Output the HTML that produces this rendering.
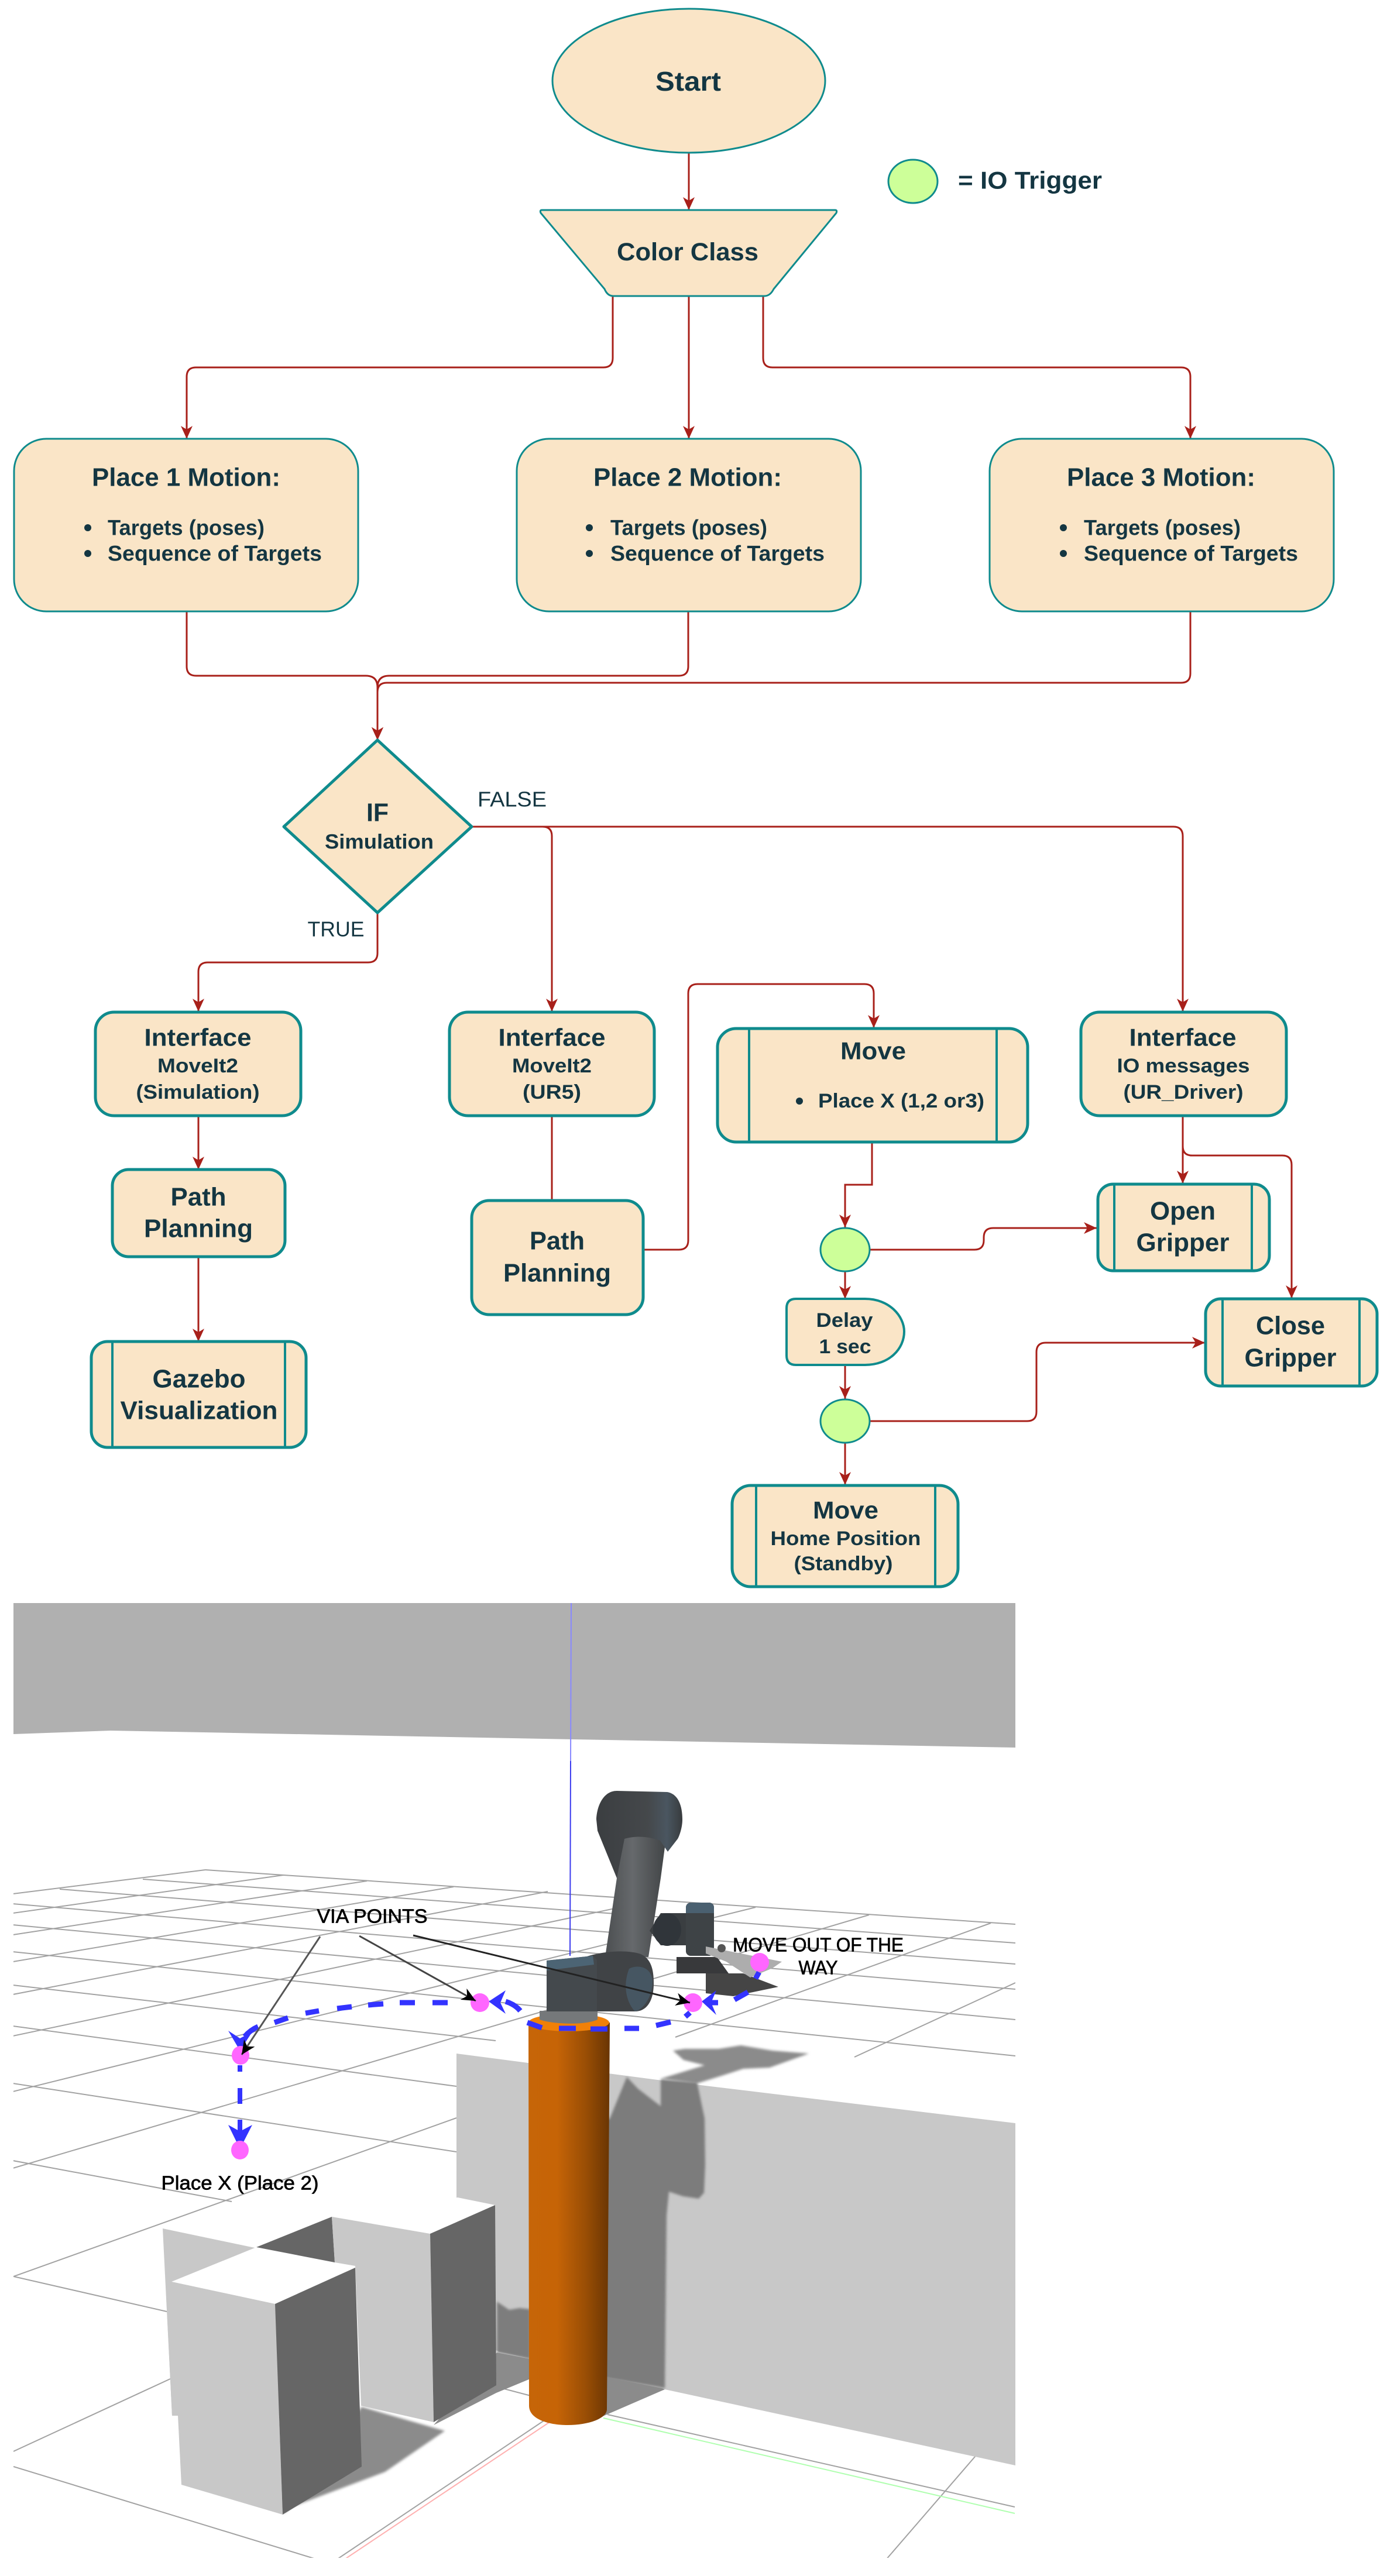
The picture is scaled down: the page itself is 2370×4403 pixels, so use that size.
<!DOCTYPE html>
<html><head><meta charset="utf-8"><title>Flowchart</title>
<style>
html,body{margin:0;padding:0;background:#fff;width:2370px;height:4403px;overflow:hidden}
svg{display:block}
text{font-family:"Liberation Sans",sans-serif;fill:#143642;text-anchor:middle;dominant-baseline:central}
.b{font-weight:bold}
.l{text-anchor:start}
.k{fill:#000;stroke:#000;stroke-width:.7}
.f{fill:#fae5c7;stroke:#0f8b8d;stroke-width:3}
.t{fill:#fae5c7;stroke:#0f8b8d;stroke-width:5}
.n{fill:none;stroke:#0f8b8d;stroke-width:4}
.c{fill:none;stroke:#a8201a;stroke-width:3}
.g{fill:#cdff99;stroke:#0f8b8d;stroke-width:3}
.grid line{stroke:#a2a2a2;stroke-width:2}
.d{fill:none;stroke:#3333ff;stroke-width:9}
</style></head><body>
<svg xmlns="http://www.w3.org/2000/svg" width="2370" height="4403" viewBox="0 0 2370 4403">
<defs>
<marker id="a" markerUnits="userSpaceOnUse" markerWidth="24" markerHeight="24" refX="22" refY="12" orient="auto"><path d="M0,2 L22,12 L0,22 L6,12Z" fill="#a8201a"/></marker>
<marker id="p" markerUnits="userSpaceOnUse" markerWidth="30" markerHeight="30" refX="24" refY="12" orient="auto"><path d="M0,1 L24,12 L0,23 L7,12Z" fill="#000"/></marker>
<linearGradient id="cy" x1="0" x2="1" y1="0" y2="0"><stop offset="0" stop-color="#c66508"/><stop offset=".35" stop-color="#c66406"/><stop offset=".7" stop-color="#9a4e05"/><stop offset="1" stop-color="#693503"/></linearGradient>
<linearGradient id="arm" x1="0" x2="1" y1="0" y2="0"><stop offset="0" stop-color="#45484a"/><stop offset=".5" stop-color="#66696c"/><stop offset="1" stop-color="#3f4244"/></linearGradient>
<linearGradient id="el" x1="0" x2="1" y1="0" y2="0"><stop offset="0" stop-color="#3b3e41"/><stop offset=".6" stop-color="#45484b"/><stop offset=".82" stop-color="#4a5660"/><stop offset="1" stop-color="#383b3e"/></linearGradient>
<filter id="s" x="-5%" y="-5%" width="110%" height="110%"><feGaussianBlur stdDeviation="2"/></filter>
<clipPath id="ph"><rect x="23" y="2740" width="1712" height="1632"/></clipPath>
</defs>

<!-- connectors -->
<g class="c">
<path class="c" d="M1177,261V359" marker-end="url(#a)"/>
<path class="c" d="M1047,506V612Q1047,628 1031,628H335Q319,628 319,644V750" marker-end="url(#a)"/>
<path class="c" d="M1177,506V750" marker-end="url(#a)"/>
<path class="c" d="M1304,506V612Q1304,628 1320,628H2018Q2034,628 2034,644V750" marker-end="url(#a)"/>
<path class="c" d="M319,1045V1139Q319,1155 335,1155H625Q645,1155 645,1175V1265" marker-end="url(#a)"/>
<path class="c" d="M1176,1045V1139Q1176,1155 1160,1155H665Q645,1155 645,1175V1265" marker-end="url(#a)"/>
<path class="c" d="M2034,1045V1151Q2034,1167 2018,1167H661Q645,1167 645,1183V1265" marker-end="url(#a)"/>
<path class="c" d="M645,1560V1629Q645,1645 629,1645H355Q339,1645 339,1661V1729" marker-end="url(#a)"/>
<path class="c" d="M806,1413H927Q943,1413 943,1429V1729" marker-end="url(#a)"/>
<path class="c" d="M806,1413H2005Q2021,1413 2021,1429V1729" marker-end="url(#a)"/>
<path class="c" d="M339,1907V1999" marker-end="url(#a)"/>
<path class="c" d="M339,2148V2293" marker-end="url(#a)"/>
<path class="c" d="M943,1907V2052"/>
<path class="c" d="M1099,2136H1160Q1176,2136 1176,2120V1698Q1176,1682 1192,1682H1477Q1493,1682 1493,1698V1757" marker-end="url(#a)"/>
<path class="c" d="M1490,1952V2025H1444V2098" marker-end="url(#a)"/>
<path class="c" d="M1486,2136H1665Q1681,2136 1681,2120V2115Q1681,2099 1697,2099H1874" marker-end="url(#a)"/>
<path class="c" d="M1444,2173V2220" marker-end="url(#a)"/>
<path class="c" d="M1444,2333V2391" marker-end="url(#a)"/>
<path class="c" d="M1486,2429H1755Q1771,2429 1771,2413V2311Q1771,2295 1787,2295H2059" marker-end="url(#a)"/>
<path class="c" d="M1444,2467V2538" marker-end="url(#a)"/>
<path class="c" d="M2021,1907V2023" marker-end="url(#a)"/>
<path class="c" d="M2021,1907V1959Q2021,1975 2037,1975H2191Q2207,1975 2207,1991V2219" marker-end="url(#a)"/>
</g>

<!-- top shapes -->
<ellipse class="f" cx="1177" cy="138" rx="233" ry="123"/>
<text class="b" x="1176" y="139" font-size="46" textLength="112" lengthAdjust="spacingAndGlyphs">Start</text>
<ellipse class="g" cx="1560" cy="310" rx="42" ry="37"/>
<text class="b" x="1760" y="308" font-size="42" textLength="246" lengthAdjust="spacingAndGlyphs">= IO Trigger</text>
<path class="f" stroke-linejoin="round" d="M926,359H1427Q1431,359 1429,364L1322,494Q1316,506 1306,506H1048Q1038,506 1033,494L924,364Q922,359 926,359Z"/>
<text class="b" x="1175" y="431" font-size="43" textLength="242" lengthAdjust="spacingAndGlyphs">Color Class</text>

<!-- place boxes -->
<rect class="f" x="24" y="750" width="588" height="295" rx="55"/>
<text class="b" x="318" y="816" font-size="44" textLength="322" lengthAdjust="spacingAndGlyphs">Place 1 Motion:</text>
<circle cx="150" cy="902" r="6" fill="#143642"/><circle cx="150" cy="946" r="6" fill="#143642"/>
<text class="b l" x="184" y="902" font-size="37" textLength="268" lengthAdjust="spacingAndGlyphs">Targets (poses)</text>
<text class="b l" x="184" y="946" font-size="37" textLength="366" lengthAdjust="spacingAndGlyphs">Sequence of Targets</text>

<rect class="f" x="883" y="750" width="588" height="295" rx="55"/>
<text class="b" x="1175" y="816" font-size="44" textLength="322" lengthAdjust="spacingAndGlyphs">Place 2 Motion:</text>
<circle cx="1007" cy="902" r="6" fill="#143642"/><circle cx="1007" cy="946" r="6" fill="#143642"/>
<text class="b l" x="1043" y="902" font-size="37" textLength="268" lengthAdjust="spacingAndGlyphs">Targets (poses)</text>
<text class="b l" x="1043" y="946" font-size="37" textLength="366" lengthAdjust="spacingAndGlyphs">Sequence of Targets</text>

<rect class="f" x="1691" y="750" width="588" height="295" rx="55"/>
<text class="b" x="1984" y="816" font-size="44" textLength="322" lengthAdjust="spacingAndGlyphs">Place 3 Motion:</text>
<circle cx="1817" cy="902" r="6" fill="#143642"/><circle cx="1817" cy="946" r="6" fill="#143642"/>
<text class="b l" x="1852" y="902" font-size="37" textLength="268" lengthAdjust="spacingAndGlyphs">Targets (poses)</text>
<text class="b l" x="1852" y="946" font-size="37" textLength="366" lengthAdjust="spacingAndGlyphs">Sequence of Targets</text>

<!-- decision -->
<path class="t" stroke-linejoin="round" d="M645,1265L806,1413L645,1560L485,1413Z"/>
<text class="b" x="645" y="1389" font-size="44" textLength="38" lengthAdjust="spacingAndGlyphs">IF</text>
<text class="b" x="648" y="1439" font-size="35" textLength="186" lengthAdjust="spacingAndGlyphs">Simulation</text>
<text x="875" y="1366" font-size="36" textLength="118" lengthAdjust="spacingAndGlyphs">FALSE</text>
<text x="574" y="1588" font-size="36" textLength="97" lengthAdjust="spacingAndGlyphs">TRUE</text>

<!-- interfaces -->
<rect class="t" x="163" y="1730" width="351" height="177" rx="32"/>
<text class="b" x="338" y="1773" font-size="42" textLength="183" lengthAdjust="spacingAndGlyphs">Interface</text>
<text class="b" x="338" y="1822" font-size="34" textLength="138" lengthAdjust="spacingAndGlyphs">MoveIt2</text>
<text class="b" x="338" y="1867" font-size="34" textLength="211" lengthAdjust="spacingAndGlyphs">(Simulation)</text>

<rect class="t" x="768" y="1730" width="350" height="177" rx="32"/>
<text class="b" x="943" y="1773" font-size="42" textLength="183" lengthAdjust="spacingAndGlyphs">Interface</text>
<text class="b" x="943" y="1822" font-size="34" textLength="136" lengthAdjust="spacingAndGlyphs">MoveIt2</text>
<text class="b" x="943" y="1867" font-size="34" textLength="100" lengthAdjust="spacingAndGlyphs">(UR5)</text>

<rect class="t" x="1847" y="1730" width="351" height="177" rx="32"/>
<text class="b" x="2021" y="1773" font-size="42" textLength="183" lengthAdjust="spacingAndGlyphs">Interface</text>
<text class="b" x="2022" y="1822" font-size="34" textLength="227" lengthAdjust="spacingAndGlyphs">IO messages</text>
<text class="b" x="2022" y="1867" font-size="34" textLength="205" lengthAdjust="spacingAndGlyphs">(UR_Driver)</text>

<!-- path planning -->
<rect class="t" x="192" y="1999" width="295" height="149" rx="28"/>
<text class="b" x="339" y="2046" font-size="44" textLength="95" lengthAdjust="spacingAndGlyphs">Path</text>
<text class="b" x="339" y="2100" font-size="44" textLength="186" lengthAdjust="spacingAndGlyphs">Planning</text>

<rect class="t" x="156" y="2293" width="367" height="181" rx="28"/>
<path class="n" d="M192,2293V2474M487,2293V2474"/>
<text class="b" x="340" y="2357" font-size="44" textLength="159" lengthAdjust="spacingAndGlyphs">Gazebo</text>
<text class="b" x="340" y="2411" font-size="44" textLength="269" lengthAdjust="spacingAndGlyphs">Visualization</text>

<rect class="t" x="806" y="2052" width="293" height="195" rx="30"/>
<text class="b" x="952" y="2121" font-size="44" textLength="94" lengthAdjust="spacingAndGlyphs">Path</text>
<text class="b" x="952" y="2176" font-size="44" textLength="184" lengthAdjust="spacingAndGlyphs">Planning</text>

<!-- move -->
<rect class="t" x="1226" y="1758" width="530" height="194" rx="32"/>
<path class="n" d="M1280,1758V1952M1703,1758V1952"/>
<text class="b" x="1492" y="1796" font-size="42" textLength="112" lengthAdjust="spacingAndGlyphs">Move</text>
<circle cx="1366" cy="1882" r="6" fill="#143642"/>
<text class="b l" x="1398" y="1882" font-size="34" textLength="284" lengthAdjust="spacingAndGlyphs">Place X (1,2 or3)</text>

<ellipse class="g" cx="1444" cy="2136" rx="42" ry="37"/>
<ellipse class="g" cx="1444" cy="2429" rx="42" ry="37"/>

<path class="t" style="stroke-width:4" d="M1360,2220H1478C1520,2220 1545,2250 1545,2276C1545,2305 1520,2333 1478,2333H1360Q1344,2333 1344,2317V2236Q1344,2220 1360,2220Z"/>
<text class="b" x="1443" y="2257" font-size="34" textLength="97" lengthAdjust="spacingAndGlyphs">Delay</text>
<text class="b" x="1444" y="2302" font-size="34" textLength="89" lengthAdjust="spacingAndGlyphs">1 sec</text>

<rect class="t" x="1876" y="2024" width="293" height="148" rx="26"/>
<path class="n" d="M1904,2024V2172M2139,2024V2172"/>
<text class="b" x="2021" y="2070" font-size="44" textLength="112" lengthAdjust="spacingAndGlyphs">Open</text>
<text class="b" x="2021" y="2124" font-size="44" textLength="159" lengthAdjust="spacingAndGlyphs">Gripper</text>

<rect class="t" x="2060" y="2220" width="293" height="149" rx="26"/>
<path class="n" d="M2089,2220V2369M2323,2220V2369"/>
<text class="b" x="2205" y="2266" font-size="44" textLength="118" lengthAdjust="spacingAndGlyphs">Close</text>
<text class="b" x="2205" y="2321" font-size="44" textLength="157" lengthAdjust="spacingAndGlyphs">Gripper</text>

<rect class="t" x="1251" y="2539" width="386" height="173" rx="32"/>
<path class="n" d="M1292,2539V2712M1598,2539V2712"/>
<text class="b" x="1445" y="2581" font-size="42" textLength="112" lengthAdjust="spacingAndGlyphs">Move</text>
<text class="b" x="1445" y="2630" font-size="34" textLength="257" lengthAdjust="spacingAndGlyphs">Home Position</text>
<text class="b" x="1441" y="2673" font-size="34" textLength="169" lengthAdjust="spacingAndGlyphs">(Standby)</text>

<!-- scene -->
<g clip-path="url(#ph)">
<path d="M23,2740H1735V2987L980,2973L189,2958L23,2964Z" fill="#b0b0b0"/>
<g class="grid">
<line x1="351" y1="3196" x2="1735" y2="3289"/>
<line x1="244" y1="3212" x2="1735" y2="3321"/>
<line x1="102" y1="3229" x2="1735" y2="3357"/>
<line x1="22" y1="3254" x2="1735" y2="3400"/>
<line x1="22" y1="3290" x2="1735" y2="3452"/>
<line x1="22" y1="3336" x2="1735" y2="3514"/>
<line x1="22" y1="3393" x2="847" y2="3488"/>
<line x1="22" y1="3463" x2="780" y2="3566"/>
<line x1="22" y1="3561" x2="780" y2="3678"/>
<line x1="22" y1="3693" x2="396" y2="3763"/>
<line x1="23" y1="3891" x2="285" y2="3951"/>
<line x1="23" y1="4216" x2="543" y2="4375"/>
<line x1="22" y1="3237" x2="351" y2="3196"/>
<line x1="22" y1="3270" x2="484" y2="3205"/>
<line x1="22" y1="3307" x2="627" y2="3215"/>
<line x1="22" y1="3353" x2="775" y2="3225"/>
<line x1="22" y1="3409" x2="936" y2="3233"/>
<line x1="22" y1="3480" x2="1121" y2="3247"/>
<line x1="22" y1="3575" x2="1291" y2="3260"/>
<line x1="22" y1="3706" x2="1485" y2="3273"/>
<line x1="23" y1="3891" x2="780" y2="3620"/>
<line x1="1154" y1="3482" x2="1693" y2="3287"/>
<line x1="23" y1="4190" x2="291" y2="4066"/>
<line x1="1460" y1="3516" x2="1735" y2="3389"/>
<line x1="575" y1="4375" x2="939" y2="4131"/>
<line x1="1514" y1="4375" x2="1672" y2="4192"/>
<line x1="1038" y1="4127" x2="1734" y2="4285"/>
<line x1="846" y1="4079" x2="907" y2="4095"/>
</g>
<line x1="1031" y1="4133" x2="1734" y2="4296" stroke="#b0ffb0" stroke-width="2"/>
<line x1="588" y1="4375" x2="939" y2="4140" stroke="#ffb0b0" stroke-width="2"/>

<!-- table top shadow -->
<path filter="url(#s)" d="M1150,3505L1170,3502L1228,3502L1266,3496L1320,3505L1382,3510L1315,3534L1270,3536L1233,3548L1191,3561L1129,3553L1204,3530L1168,3521Z" fill="#8b8b8b"/>
<!-- wall -->
<path d="M780,3510L1131,3556L1735,3629V4214L1136,4084L1038,4064L906,4032L780,4000Z" fill="#c8c8c8"/>
<path filter="url(#s)" d="M1030,4064L1030,3625L1042,3621L1071,3550L1090,3570L1129,3600L1129,3554L1191,3559L1204,3621L1205,3700L1203,3748L1194,3758L1167,3754L1143,3746L1139,3787L1136,4082Z" fill="#7c7c7c"/>
<path d="M1030,4062L1131,4082L1136,4084L1030,4130Z" fill="#8b8b8b"/>
<path filter="url(#s)" d="M849,3934L870,3948L888,3945L906,3947V4032L849,4021Z" fill="#7d7d7d"/>
<path d="M849,4021L906,4032V4066L848,4090L741,4145Z" fill="#8b8b8b"/>

<!-- boxes -->
<path filter="url(#s)" d="M618,4114L760,4155L658,4225L498,4285L483,4298Z" fill="#8b8b8b"/>
<path d="M278,3809L440,3843L589,3876L604,4129L294,4129Z" fill="#c8c8c8"/>
<path d="M438,3841L567,3789L572,3867Z" fill="#666"/>
<path d="M567,3789L735,3818L846,3769L782,3756Z" fill="#fff"/>
<path d="M567,3789L735,3818L741,4140L617,4112L607,3873L572,3867Z" fill="#c8c8c8"/>
<path d="M735,3818L846,3769L848,4077L741,4140Z" fill="#666"/>
<path d="M438,3841L607,3876L470,3938L293,3900Z" fill="#fff"/>
<path d="M283,3904L293,3900L470,3938L483,4298L310,4247L304,4129L294,4129Z" fill="#c8c8c8"/>
<path d="M470,3938L607,3876L618,4216L483,4298Z" fill="#666"/>

<!-- cylinder -->
<path d="M903,3457H1042L1037,4118C1037,4134 1005,4145 970,4145C935,4145 904,4134 904,4112Z" fill="url(#cy)"/>
<ellipse cx="972" cy="3457" rx="69" ry="15" fill="#f08008"/>

<!-- robot -->
<path d="M922,3437H1021V3452C1000,3462 945,3460 922,3452Z" fill="#75787a"/>
<path d="M1021,3129L1067,3120H1141L1129,3210L1108,3345H1034L1054,3210Z" fill="url(#arm)"/>
<path d="M1019,3110C1020,3085 1032,3061 1054,3061L1140,3063C1158,3066 1166,3085 1166,3110C1166,3125 1160,3140 1158,3143L1141,3165L1128,3146C1105,3138 1085,3138 1067,3143L1054,3210L1021,3129Z" fill="url(#el)"/>
<path d="M1129,3270H1172V3325H1129L1110,3300Z" fill="#3a3e41"/>
<rect x="1172" y="3252" width="48" height="91" rx="8" fill="#3e4346"/>
<path d="M1172,3262Q1172,3252 1182,3252H1210Q1220,3252 1220,3262V3270H1172Z" fill="#4a6070"/>
<ellipse cx="1140" cy="3298" rx="24" ry="28" fill="#30353a"/>
<path d="M1000,3345C1030,3335 1070,3332 1095,3340C1112,3348 1117,3365 1117,3390C1117,3420 1105,3438 1085,3438H1000Z" fill="#404346"/>
<path d="M1075,3365C1088,3358 1112,3360 1115,3385C1116,3410 1100,3435 1085,3438C1068,3420 1065,3390 1075,3365Z" fill="#465662"/>
<path d="M934,3351L1013,3343L1020,3350V3438H934Z" fill="#44494d"/>
<path d="M934,3351L1013,3343L1015,3358L934,3368Z" fill="#4c6474"/>
<path d="M1156,3345H1225L1245,3373H1156Z" fill="#38393b"/>
<path d="M1206,3373H1270L1330,3396L1253,3412L1206,3407Z" fill="#454545"/>
<path d="M1206,3327L1336,3353L1320,3364L1282,3380L1241,3353L1206,3339Z" fill="#adadad"/>
<circle cx="1233" cy="3330" r="7" fill="#555"/>

<!-- blue vertical axis -->
<line x1="976" y1="2740" x2="975" y2="3010" stroke="#8888ff" stroke-width="2"/>
<line x1="975" y1="3010" x2="974" y2="3343" stroke="#3a3aee" stroke-width="2"/>

<!-- blue dashes -->
<path class="d" d="M765,3423H739M709,3423H683M655,3425L629,3427M601,3430L576,3433M545,3437L522,3441M492,3449L469,3457M441,3464C432,3468 424,3474 418,3481"/>
<path class="d" d="M864,3421Q880,3426 889,3437"/>
<path class="d" d="M901,3457L926,3466M955,3467H984M1009,3468H1038M1067,3467H1092M1121,3462L1146,3456M1171,3447L1179,3440"/>
<path class="d" d="M1215,3423H1227M1255,3418L1278,3405M1291,3382L1297,3371"/>
<path class="d" style="stroke-width:8" d="M410,3530V3541M410,3569V3596M410,3623V3650"/>
<path d="M835,3421L864,3402L855,3423L864,3442Z" fill="#3333ff"/>
<path d="M1199,3421L1224,3402L1215,3423L1224,3444Z" fill="#3333ff"/>
<path d="M410,3505L390,3471L410,3484L431,3473Z" fill="#3333ff"/>
<path d="M410,3673L390,3632L410,3643L431,3632Z" fill="#3333ff"/>

<!-- way points -->
<ellipse cx="820" cy="3423" rx="16" ry="16" fill="#ff66ff"/>
<ellipse cx="1184" cy="3423" rx="16" ry="16" fill="#ff66ff"/>
<ellipse cx="1298" cy="3354" rx="16" ry="16" fill="#ff66ff"/>
<ellipse cx="411" cy="3513" rx="15" ry="16" fill="#ff66ff"/>
<ellipse cx="410" cy="3675" rx="15" ry="16" fill="#ff66ff"/>

<!-- pointers -->
<line x1="547" y1="3310" x2="413" y2="3512" stroke="#555" stroke-width="3" marker-end="url(#p)"/>
<line x1="614" y1="3309" x2="813" y2="3420" stroke="#444" stroke-width="3" marker-end="url(#p)"/>
<line x1="706" y1="3308" x2="1179" y2="3423" stroke="#222" stroke-width="3" marker-end="url(#p)"/>

<text class="k" x="636" y="3275" font-size="33" textLength="189" lengthAdjust="spacingAndGlyphs">VIA POINTS</text>
<text class="k" x="1398" y="3324" font-size="33" textLength="292" lengthAdjust="spacingAndGlyphs">MOVE OUT OF THE</text>
<text class="k" x="1398" y="3363" font-size="33" textLength="67" lengthAdjust="spacingAndGlyphs">WAY</text>
<text class="k" x="410" y="3731" font-size="33" textLength="269" lengthAdjust="spacingAndGlyphs">Place X (Place 2)</text>
</g>
</svg>
</body></html>
